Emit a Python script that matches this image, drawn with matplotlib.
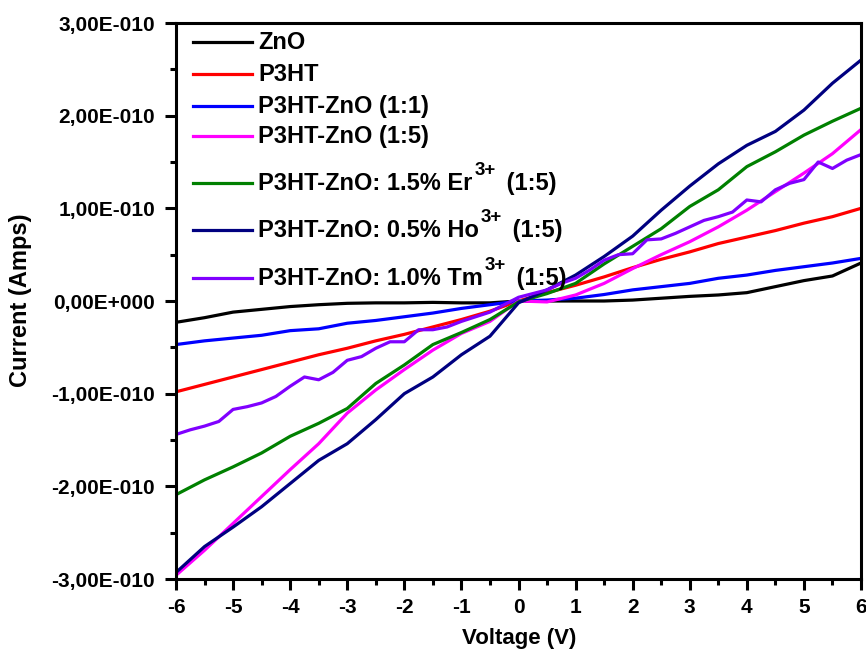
import numpy as np
import matplotlib.pyplot as plt
from matplotlib.ticker import FixedLocator, MultipleLocator, FuncFormatter

plt.rcParams['font.family'] = ['Liberation Sans', 'DejaVu Sans']
plt.rcParams['font.weight'] = 'bold'
plt.rcParams['axes.unicode_minus'] = False

# voltage sweeps (V)
voltage = np.arange(-6, 6.01, 0.5)
voltage_fine = np.arange(-6, 6.01, 0.25)

# current in units of 1e-10 A
zno = [-0.23, -0.18, -0.12, -0.09, -0.06, -0.04, -0.025, -0.02, -0.02, -0.015, -0.02, -0.02, 0.0,
       0.0, 0.0, 0.0, 0.01, 0.03, 0.05, 0.065, 0.09, 0.155, 0.22, 0.27, 0.41]
p3ht = [-0.98, -0.90, -0.82, -0.74, -0.66, -0.58, -0.51, -0.43, -0.36, -0.28, -0.20, -0.11, 0.0,
        0.09, 0.17, 0.26, 0.36, 0.45, 0.53, 0.62, 0.69, 0.76, 0.84, 0.91, 1.0]
p3ht_zno_11 = [-0.47, -0.43, -0.40, -0.37, -0.32, -0.30, -0.24, -0.21, -0.17, -0.13, -0.08, -0.04, 0.0,
               0.01, 0.03, 0.07, 0.12, 0.155, 0.19, 0.245, 0.28, 0.33, 0.37, 0.41, 0.46]
p3ht_zno_15 = [-2.96, -2.69, -2.40, -2.11, -1.82, -1.54, -1.21, -0.96, -0.74, -0.53, -0.35, -0.22, 0.0,
               -0.01, 0.065, 0.19, 0.35, 0.50, 0.64, 0.80, 0.98, 1.18, 1.38, 1.59, 1.85]
er_15 = [-2.09, -1.93, -1.79, -1.64, -1.46, -1.32, -1.16, -0.89, -0.69, -0.47, -0.34, -0.20, -0.01,
         0.08, 0.19, 0.40, 0.59, 0.78, 1.02, 1.20, 1.45, 1.61, 1.79, 1.94, 2.08]
ho_05 = [-2.93, -2.65, -2.44, -2.22, -1.97, -1.72, -1.54, -1.28, -1.00, -0.82, -0.58, -0.38, -0.02,
         0.12, 0.28, 0.48, 0.70, 0.98, 1.24, 1.48, 1.68, 1.83, 2.06, 2.35, 2.60]
# Tm curve is noisier, read on a finer voltage step
tm_10 = [-1.44, -1.39, -1.35, -1.30, -1.17, -1.14, -1.10, -1.03, -0.92, -0.82, -0.85, -0.77,
         -0.64, -0.60, -0.51, -0.44, -0.44, -0.31, -0.31, -0.28, -0.22, -0.17, -0.12, -0.04,
         0.04, 0.08, 0.12, 0.19, 0.245, 0.335, 0.44, 0.50, 0.51, 0.66, 0.67, 0.73,
         0.80, 0.87, 0.91, 0.96, 1.09, 1.07, 1.20, 1.27, 1.31, 1.50, 1.43, 1.52, 1.58]

# legend labels: (text before superscript, superscript, text after)
labels = [('ZnO', '', ''), ('P3HT', '', ''), ('P3HT-ZnO (1:1)', '', ''), ('P3HT-ZnO (1:5)', '', ''),
          ('P3HT-ZnO: 1.5% Er', '3+', ' (1:5)'),
          ('P3HT-ZnO: 0.5% Ho', '3+', ' (1:5)'),
          ('P3HT-ZnO: 1.0% Tm', '3+', ' (1:5)')]
colors = ['#000000', '#ff0000', '#0000ff', '#ff00ff', '#008000', '#000080', '#8000ff']
series = [(voltage, zno), (voltage, p3ht), (voltage, p3ht_zno_11), (voltage, p3ht_zno_15),
          (voltage, er_15), (voltage, ho_05), (voltage_fine, tm_10)]

x_ticks = np.arange(-6, 7, 1)
y_ticks = np.arange(-3, 4, 1) * 1e-10


def sci_fmt(v, pos):
    if abs(v) < 1e-20:
        return '0,00E+000'
    exp = int(np.floor(np.log10(abs(v)) + 1e-9))
    mant = v / 10 ** exp
    sign = '-' if exp < 0 else '+'
    return f'{mant:.2f}'.replace('.', ',') + f'E{sign}{abs(exp):03d}'


W, H = 866, 666
L, R, T, B = 176, 861, 23, 579
fig = plt.figure(figsize=(W / 100, H / 100), dpi=100)
ax = fig.add_axes([L / W, (H - B) / H, (R - L) / W, (B - T) / H])


def ax_xy(px, py):
    # pixel position in the figure -> axes fraction
    return (px - L) / (R - L), (B - py) / (B - T)


for (v, y), c in zip(series, colors):
    ax.plot(v, np.array(y) * 1e-10, color=c, lw=2.3)

ax.set_xlim(-6, 6)
ax.set_ylim(-3e-10, 3e-10)
ax.xaxis.set_major_locator(FixedLocator(x_ticks))
ax.xaxis.set_minor_locator(MultipleLocator(0.5))
ax.yaxis.set_major_locator(FixedLocator(y_ticks))
ax.yaxis.set_minor_locator(MultipleLocator(0.5e-10))
ax.yaxis.set_major_formatter(FuncFormatter(sci_fmt))

ax.tick_params(which='both', direction='out', width=2.2, labelsize=15)
ax.tick_params(which='major', length=8)
ax.tick_params(axis='y', which='major', pad=7)
ax.tick_params(axis='x', which='major', pad=6)
ax.tick_params(which='minor', length=4.5)
for s in ax.spines.values():
    s.set_linewidth(2.2)

ax.set_xlabel('Voltage (V)', fontsize=16, fontweight='bold')
ax.xaxis.set_label_coords(*ax_xy(519, 628))
ax.set_ylabel('Current (Amps)', fontsize=17, fontweight='bold')
ax.yaxis.set_label_coords(*ax_xy(32, 300))

# legend drawn by hand: rows have uneven spacing because of the superscripts
baselines = [49, 81, 113, 143, 190, 237, 285]
for (main, sup, tail), c, yb in zip(labels, colors, baselines):
    x0, y0 = ax_xy(193, yb - 7.5)
    x1, _ = ax_xy(252, yb - 7.5)
    ax.plot([x0, x1], [y0, y0], color=c, lw=2.3, transform=ax.transAxes, clip_on=False)
    tx, ty = ax_xy(258, yb)
    t = ax.text(tx, ty, main, transform=ax.transAxes, fontsize=17,
                fontweight='bold', va='baseline', ha='left')
    if sup:
        _, ys = ax_xy(0, yb - 15)
        s = ax.annotate(sup, xy=(1, ys), xycoords=(t, 'axes fraction'), xytext=(1.5, 0),
                        textcoords='offset points', fontsize=13.5, fontweight='bold',
                        va='baseline', ha='left')
        ax.annotate(tail, xy=(1, ty), xycoords=(s, 'axes fraction'), xytext=(3, 0),
                    textcoords='offset points', fontsize=17,
                    fontweight='bold', va='baseline', ha='left')

fig.savefig('out.png', dpi=100)
